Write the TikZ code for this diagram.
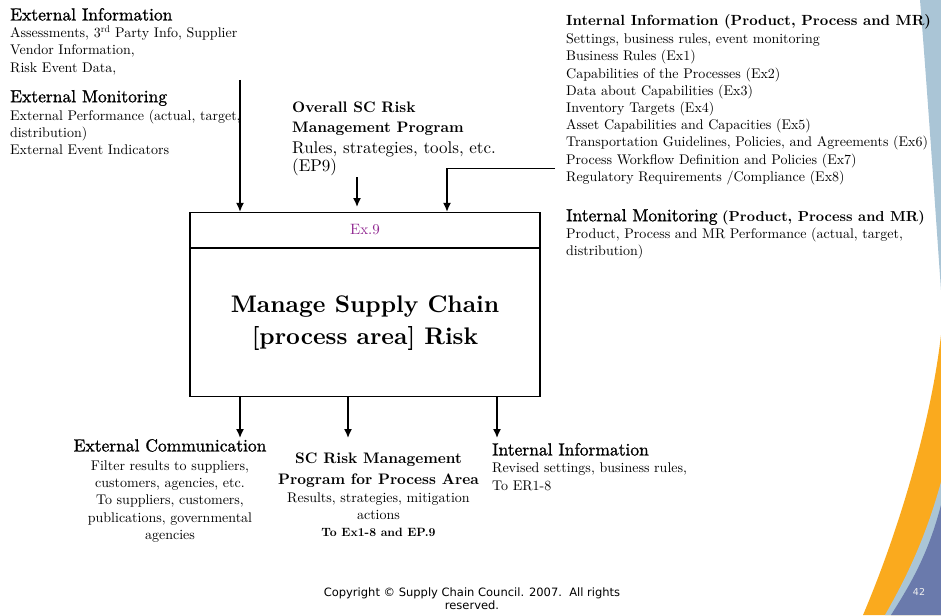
\documentclass[tikz,border=0pt]{standalone}
\usepackage{fontspec}
\setmainfont{lmroman10-regular.otf}[BoldFont=lmroman10-bold.otf]
\newfontfamily\hregfont{lmroman10-regular.otf}[FakeBold=1.2]
\newfontfamily\copyfont{DejaVu Sans}
\usepackage{xcolor}
\usetikzlibrary{arrows.meta,positioning}
\definecolor{exviolet}{RGB}{145,40,145}
\definecolor{bandblue}{RGB}{170,197,214}
\definecolor{bandorange}{RGB}{250,170,30}
\definecolor{banddark}{RGB}{106,122,172}

\begin{document}
\begin{tikzpicture}[
  x=1pt, y=-1pt,
  txt/.style={inner sep=0pt,align=left,anchor=north west,font=\fontsize{14}{17.2}\selectfont},
  ctxt/.style={txt,align=center,anchor=north},
  procbox/.style={draw,line width=1.2pt,minimum width=350pt,inner sep=0pt},
  flow/.style={-{Latex[length=9pt,width=8pt]},line width=1.5pt},
  feed/.style={line width=0.8pt}
]
% heading fonts
\def\hreg{\hregfont\fontsize{17.5}{21}\selectfont}
\def\hbold{\fontsize{15.2}{18}\selectfont\bfseries}
\def\bigbody{\fontsize{17}{18.5}\selectfont}

\useasboundingbox (0,0) rectangle (941,615);

% slide decoration at the right edge
\fill[bandblue] (920,0) .. controls (928,100) and (936,220) .. (941,290) -- (941,0) -- cycle;
\fill[bandorange] (941,335) .. controls (930,430) and (895,540) .. (863,615) -- (941,615) -- cycle;
\fill[bandblue] (941,482) .. controls (925,540) and (905,580) .. (885,615) -- (941,615) -- cycle;
\fill[banddark] (941,505) .. controls (928,555) and (910,585) .. (891,615) -- (941,615) -- cycle;

% process box
\node[procbox,minimum height=35pt,font=\fontsize{15}{18}\selectfont,text=exviolet] (hdr) at (365,230) {Ex.9};
\node[procbox,minimum height=148pt,anchor=north,align=center,font=\fontsize{24}{32}\selectfont\bfseries]
  (body) at (hdr.south) {Manage Supply Chain\\{[process area]} Risk};

% inputs
\node[txt] (extinfo) at (10,7.9) {{\hreg External Information}\\
  Assessments, 3\textsuperscript{rd} Party Info, Supplier\\
  Vendor Information,\\
  Risk Event Data,};
\node[txt] (extmon) at (10,89.9) {{\hreg External Monitoring}\\[0.8pt]
  External Performance (actual, target,\\
  distribution)\\
  External Event Indicators};
\node[txt,font=\bigbody] (ovr) at (292,101.5) {{\hbold Overall SC Risk}\\[1.5pt]
  {\hbold Management Program}\\[2.5pt]
  Rules, strategies, tools, etc.\\
  (EP9)};
\node[txt] (intinfo) at (566,14) {{\fontsize{14.7}{18}\selectfont\bfseries Internal Information (Product, Process and MR)}\\[1.3pt]
  Settings, business rules, event monitoring\\
  Business Rules (Ex1)\\
  Capabilities of the Processes (Ex2)\\
  Data about Capabilities (Ex3)\\
  Inventory Targets (Ex4)\\
  Asset Capabilities and Capacities (Ex5)\\
  Transportation Guidelines, Policies, and Agreements (Ex6)\\
  Process Workflow Definition and Policies (Ex7)\\
  Regulatory Requirements /Compliance (Ex8)};
\node[txt] (intmon) at (566,208.9) {{\hreg Internal Monitoring}
  {\fontsize{14.4}{17}\selectfont\bfseries (Product, Process and MR)}\\
  Product, Process and MR Performance (actual, target,\\
  distribution)};

% outputs
\node[ctxt] (extcomm) at (170,438.9) {{\hreg External Communication}\\[1.8pt]
  Filter results to suppliers,\\
  customers, agencies, etc.\\
  To suppliers, customers,\\
  publications, governmental\\
  agencies};
\node[ctxt] (scprog) at (378.5,452.5) {{\hbold SC Risk Management}\\[3.8pt]
  {\hbold Program for Process Area}\\[0.8pt]
  Results, strategies, mitigation\\
  actions\\
  {\fontsize{12}{14}\selectfont\bfseries To Ex1-8 and EP.9}};
\node[txt] (intout) at (492,442.9) {{\hreg Internal Information}\\
  Revised settings, business rules,\\[0.8pt]
  To ER1-8};

% connector ends
\coordinate (extin) at (240,80);
\coordinate (ovrin) at (357,177);
\coordinate (ovrend) at (357,207);
\coordinate (intin) at (555,168);
\coordinate (intbend) at (447,168);
\coordinate (o1) at (240,438);
\coordinate (o2) at (348,438);
\coordinate (o3) at (497,438);

\draw[flow] (extin) -- (extin |- hdr.north);
\draw[flow] (ovrin) -- (ovrend);
\draw[feed] (intin) -- (intbend);
\draw[flow] (intbend) -- (intbend |- hdr.north);
\foreach \o in {o1,o2,o3} \draw[flow] (\o |- body.south) -- (\o);

% footer
\node[ctxt,font=\copyfont\fontsize{11.5}{13}\selectfont] (copy) at (472,587.5)
  {Copyright \textcopyright{} Supply Chain Council. 2007.\ \ All rights\\reserved.};
\node[inner sep=0pt,font=\copyfont\fontsize{9.5}{11}\selectfont,text=white!88!gray] (pgno) at (919,592) {42};
\end{tikzpicture}
\end{document}
